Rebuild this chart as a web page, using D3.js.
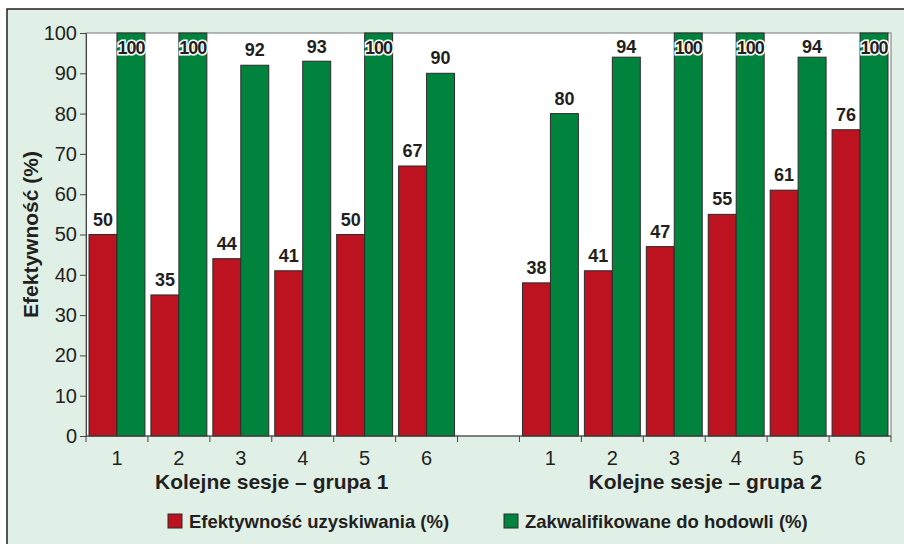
<!DOCTYPE html>
<html>
<head>
<meta charset="utf-8">
<script src="https://cdn.jsdelivr.net/npm/d3@7"></script>
<style>
  body { margin: 0; background: #fff; }
  text { font-family: "Liberation Sans", Arial, sans-serif; fill: #231f20; }
</style>
</head>
<body>
<svg id="mainsvg" width="904" height="544"></svg>
<script>
// slots: 6 sessions of group 1, an empty gap slot, 6 sessions of group 2
const slots = ['g1-1', 'g1-2', 'g1-3', 'g1-4', 'g1-5', 'g1-6', 'gap',
               'g2-1', 'g2-2', 'g2-3', 'g2-4', 'g2-5', 'g2-6'];
const slotLabels = ['1', '2', '3', '4', '5', '6', '', '1', '2', '3', '4', '5', '6'];
const efektywnosc = [50, 35, 44, 41, 50, 67, null, 38, 41, 47, 55, 61, 76];
const zakwalifikowane = [100, 100, 92, 93, 100, 90, null, 80, 94, 100, 100, 94, 100];
const seriesNames = ['Efektywność uzyskiwania (%)', 'Zakwalifikowane do hodowli (%)'];
const seriesColors = ['#bd1220', '#00843d'];
const groupTitles = ['Kolejne sesje – grupa 1', 'Kolejne sesje – grupa 2'];
const yTicks = [0, 10, 20, 30, 40, 50, 60, 70, 80, 90, 100];

const svg = d3.select('#mainsvg');
const width = +svg.attr('width');
const height = +svg.attr('height');
const margin = { top: 33, right: 13, bottom: 108, left: 86 };
const innerWidth = width - margin.left - margin.right;
const innerHeight = height - margin.top - margin.bottom;

// background panel with top/left frame
svg.append('rect').attr('x', 7).attr('y', 9).attr('width', width - 7).attr('height', height - 9)
  .attr('fill', '#e1f0e6');
svg.append('path').attr('d', `M7,${height} V9 H${width}`)
  .attr('fill', 'none').attr('stroke', '#231f20').attr('stroke-width', 1.5);

const g = svg.append('g')
  .attr('id', 'maingroup')
  .attr('transform', `translate(${margin.left}, ${margin.top})`);

g.append('rect').attr('width', innerWidth).attr('height', innerHeight)
  .attr('fill', '#fff').attr('stroke', '#777').attr('stroke-width', 1);

const xScale = d3.scaleBand().domain(slots).range([0, innerWidth]);
const x1 = d3.scaleBand().domain([0, 1]).range([3, xScale.bandwidth() - 3]);
const yScale = d3.scaleLinear().domain([0, 100]).range([innerHeight, 0]);

const data = slots.map((s, i) => ({ slot: s, values: [efektywnosc[i], zakwalifikowane[i]] }))
  .filter(d => d.values[0] !== null);

const groups = g.selectAll('.slot').data(data).join('g')
  .attr('class', 'slot')
  .attr('transform', d => `translate(${xScale(d.slot)},0)`);

groups.selectAll('rect').data(d => d.values).join('rect')
  .attr('x', (v, j) => x1(j))
  .attr('width', x1.bandwidth())
  .attr('y', v => yScale(v))
  .attr('height', v => innerHeight - yScale(v))
  .attr('fill', (v, j) => seriesColors[j])
  .attr('stroke', '#2b2b2b').attr('stroke-width', 1);

// value labels; 100 sits inside the bar with a white halo
groups.selectAll('text.val').data(d => d.values).join('text')
  .attr('class', 'val')
  .attr('x', (v, j) => x1(j) + x1.bandwidth() / 2)
  .attr('y', v => v >= 100 ? 21 : Math.max(yScale(v) - 9, 20))
  .attr('text-anchor', 'middle')
  .attr('font-size', 18).attr('font-weight', 'bold')
  .attr('stroke', v => v >= 100 ? '#fff' : 'none')
  .attr('stroke-width', 3).attr('paint-order', 'stroke')
  .attr('letter-spacing', v => v >= 100 ? -1 : 0)
  .text(v => v);

// y axis
const yAxis = d3.axisLeft(yScale).tickValues(yTicks).tickSize(6).tickPadding(3);
const yg = g.append('g').call(yAxis);
yg.select('.domain').attr('stroke', '#444');
yg.selectAll('.tick line').attr('stroke', '#444');
yg.selectAll('.tick text').attr('font-size', 20).attr('font-family', null).attr('fill', '#231f20');

// x axis: ticks at slot boundaries, labels at slot centres
const xg = g.append('g').attr('transform', `translate(0,${innerHeight})`);
xg.append('line').attr('x1', 0).attr('x2', innerWidth).attr('stroke', '#444');
xg.selectAll('line.tk').data(d3.range(slots.length + 1)).join('line')
  .attr('class', 'tk')
  .attr('x1', i => i * xScale.step()).attr('x2', i => i * xScale.step())
  .attr('y1', 0).attr('y2', 6).attr('stroke', '#444');
xg.selectAll('text.lab').data(slots).join('text')
  .attr('class', 'lab')
  .attr('x', (s) => xScale(s) + xScale.bandwidth() / 2)
  .attr('y', 29)
  .attr('text-anchor', 'middle').attr('font-size', 20)
  .text((s, i) => slotLabels[i]);

// group titles centred under each group of six
[[slots[0], slots[5]], [slots[7], slots[12]]].forEach((pair, i) => {
  const cx = (xScale(pair[0]) + xScale(pair[1]) + xScale.bandwidth()) / 2;
  xg.append('text').attr('x', cx).attr('y', 53)
    .attr('text-anchor', 'middle').attr('font-size', 21).attr('font-weight', 'bold')
    .text(groupTitles[i]);
});

// y title
svg.append('text')
  .attr('transform', `translate(38, ${margin.top + innerHeight / 2}) rotate(-90)`)
  .attr('text-anchor', 'middle').attr('font-size', 21).attr('font-weight', 'bold')
  .text('Efektywność (%)');

// legend
const legendX = [168, 504];
const legend = svg.selectAll('.legend').data(seriesNames).join('g')
  .attr('class', 'legend')
  .attr('transform', (d, i) => `translate(${legendX[i]}, 514)`);
legend.append('rect').attr('width', 14).attr('height', 14)
  .attr('fill', (d, i) => seriesColors[i]).attr('stroke', '#2b2b2b');
legend.append('text').attr('x', 21).attr('y', 14)
  .attr('font-size', 18.5).attr('font-weight', 'bold')
  .text(d => d);
</script>
</body>
</html>
